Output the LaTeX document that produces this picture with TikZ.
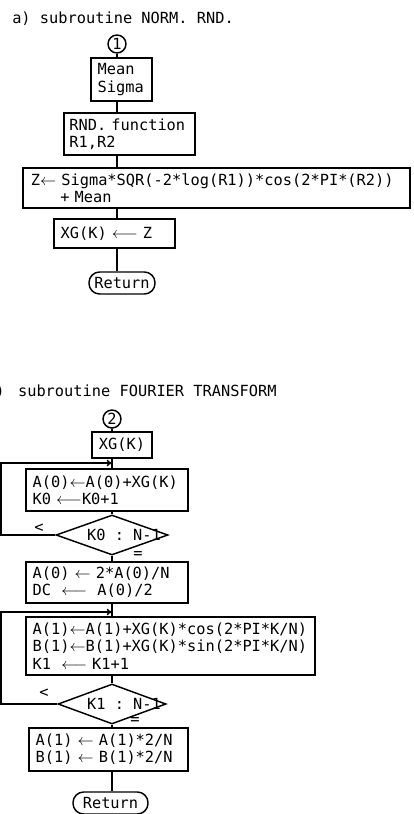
\documentclass[tikz,border=0pt]{standalone}
\usepackage{fontspec}
\setmonofont{DejaVu Sans Mono}
\usetikzlibrary{positioning, arrows.meta, shapes.geometric, calc}
\newcommand{\lar}{\ensuremath{\leftarrow}}
\newcommand{\llar}{\ensuremath{\longleftarrow}}

\begin{document}
\begin{tikzpicture}[
  x=0.75pt, y=-0.75pt,
  every node/.style={font=\ttfamily\fontsize{11.5}{13}\selectfont},
  procbox/.style={
    draw, line width=1.1pt, align=left,
    inner xsep=5pt, inner ysep=1pt, text width=#1
  },
  connector/.style={
    draw, circle, line width=1.1pt, minimum size=13.5pt, inner sep=0pt
  },
  terminal/.style={
    draw, line width=1.1pt, rounded corners=8pt,
    minimum width=#1, minimum height=16.5pt, inner sep=1pt
  },
  decision/.style={
    draw, diamond, line width=1.1pt, inner sep=0pt,
    minimum width=#1, minimum height=30pt
  },
  flow/.style={line width=1.1pt},
  loopback/.style={line width=1.1pt, -{To[length=4pt,width=5pt]}},
  heading/.style={anchor=west, inner sep=0pt},
]
\useasboundingbox (0,0) rectangle (414,814);

% === a) NORM. RND. ===
\node[heading] (title-a) at (12,19) {a) subroutine NORM. RND.};

\node[connector] (c1) at (117,44) {1};
\node[procbox=35.75pt, minimum height=32.25pt] (meanbox) at (121.5,79.5) {Mean\\Sigma};
\node[procbox=90.25pt, minimum height=31.5pt, inner xsep=4pt] (rndbox) at (129.5,134) {RND. function\\R1,R2};
\node[procbox=278.25pt, minimum height=30pt, inner xsep=6pt] (zbox) at (216.5,188)
  {Z\lar~Sigma*SQR(-2*log(R1))*cos(2*PI*(R2))\\\hspace*{22pt}+ Mean};
\node[procbox=80.75pt, minimum height=21.75pt] (xgbox) at (114.5,233.5) {XG(K) \llar{} Z};
\node[terminal=49.5pt] (ret1) at (122,283) {Return};

\draw[flow] (c1.south) -- (meanbox.north -| c1);
\draw[flow] (meanbox.south -| c1) -- (rndbox.north -| c1);
\draw[flow] (rndbox.south -| c1) -- (zbox.north -| c1);
\draw[flow] (zbox.south -| c1) -- (xgbox.north -| c1);
\draw[flow] (xgbox.south -| c1) -- (ret1.north -| c1);

% === b) FOURIER TRANSFORM ===
\node[heading] (title-b) at (-14,392) {b)\hspace{10pt}subroutine FOURIER TRANSFORM};

\node[connector] (c2) at (112,419) {2};
\node[draw, line width=1.1pt, minimum width=45pt, minimum height=19.5pt] (xgk) at (122,445) {XG(K)};
\node[procbox=111.5pt, minimum height=31.5pt] (acc0) at (107,490)
  {A(0)\lar A(0)+XG(K)\\K0 \llar{}K0+1};
\node[decision=84pt] (d0) at (112,535) {};
\node (d0txt) at (124,535) {K0 : N-1};
\node (lt0) at (39,528) {<};
\node (eq0) at (138,555) {=};
\node[procbox=111.5pt, minimum height=30.75pt] (acc0b) at (107,582.5)
  {A(0) \lar{} 2*A(0)/N\\DC~~\llar~~A(0)/2};
\node[procbox=206.75pt, minimum height=43.5pt] (acc1) at (170.5,646)
  {A(1)\lar A(1)+XG(K)*cos(2*PI*K/N)\\B(1)\lar B(1)+XG(K)*sin(2*PI*K/N)\\K1~~\llar~K1+1};
\node[decision=81pt] (d1) at (112,704) {};
\node (d1txt) at (124,704) {K1 : N-1};
\node (lt1) at (44,693) {<};
\node (eq1) at (135,721) {=};
\node[procbox=109.25pt, minimum height=32.25pt] (fin) at (108.5,749.5)
  {A(1) \lar{} A(1)*2/N\\B(1) \lar{} B(1)*2/N};
\node[terminal=56.25pt] (ret2) at (110.5,803) {Return};

\draw[flow] (c2.south) -- (xgk.north -| c2);
\draw[flow] (xgk.south -| c2) -- (acc0.north -| c2);
\draw[flow] (acc0.south -| c2) -- (d0.north);
\draw[flow] (d0.south) -- (acc0b.north -| c2);
\draw[flow] (acc0b.south -| c2) -- (acc1.north -| c2);
\draw[flow] (acc1.south -| c2) -- (d1.north);
\draw[flow] (d1.south) -- (fin.north -| c2);
\draw[flow] (fin.south -| c2) -- (ret2.north -| c2);

% Loops back
\coordinate (loop0) at (1,463);
\coordinate (loop1) at (1,612);
\draw[loopback] (d0.west) -| (loop0) -- (loop0 -| c2);
\draw[loopback] (d1.west) -| (loop1) -- (loop1 -| c2);

\end{tikzpicture}
\end{document}
